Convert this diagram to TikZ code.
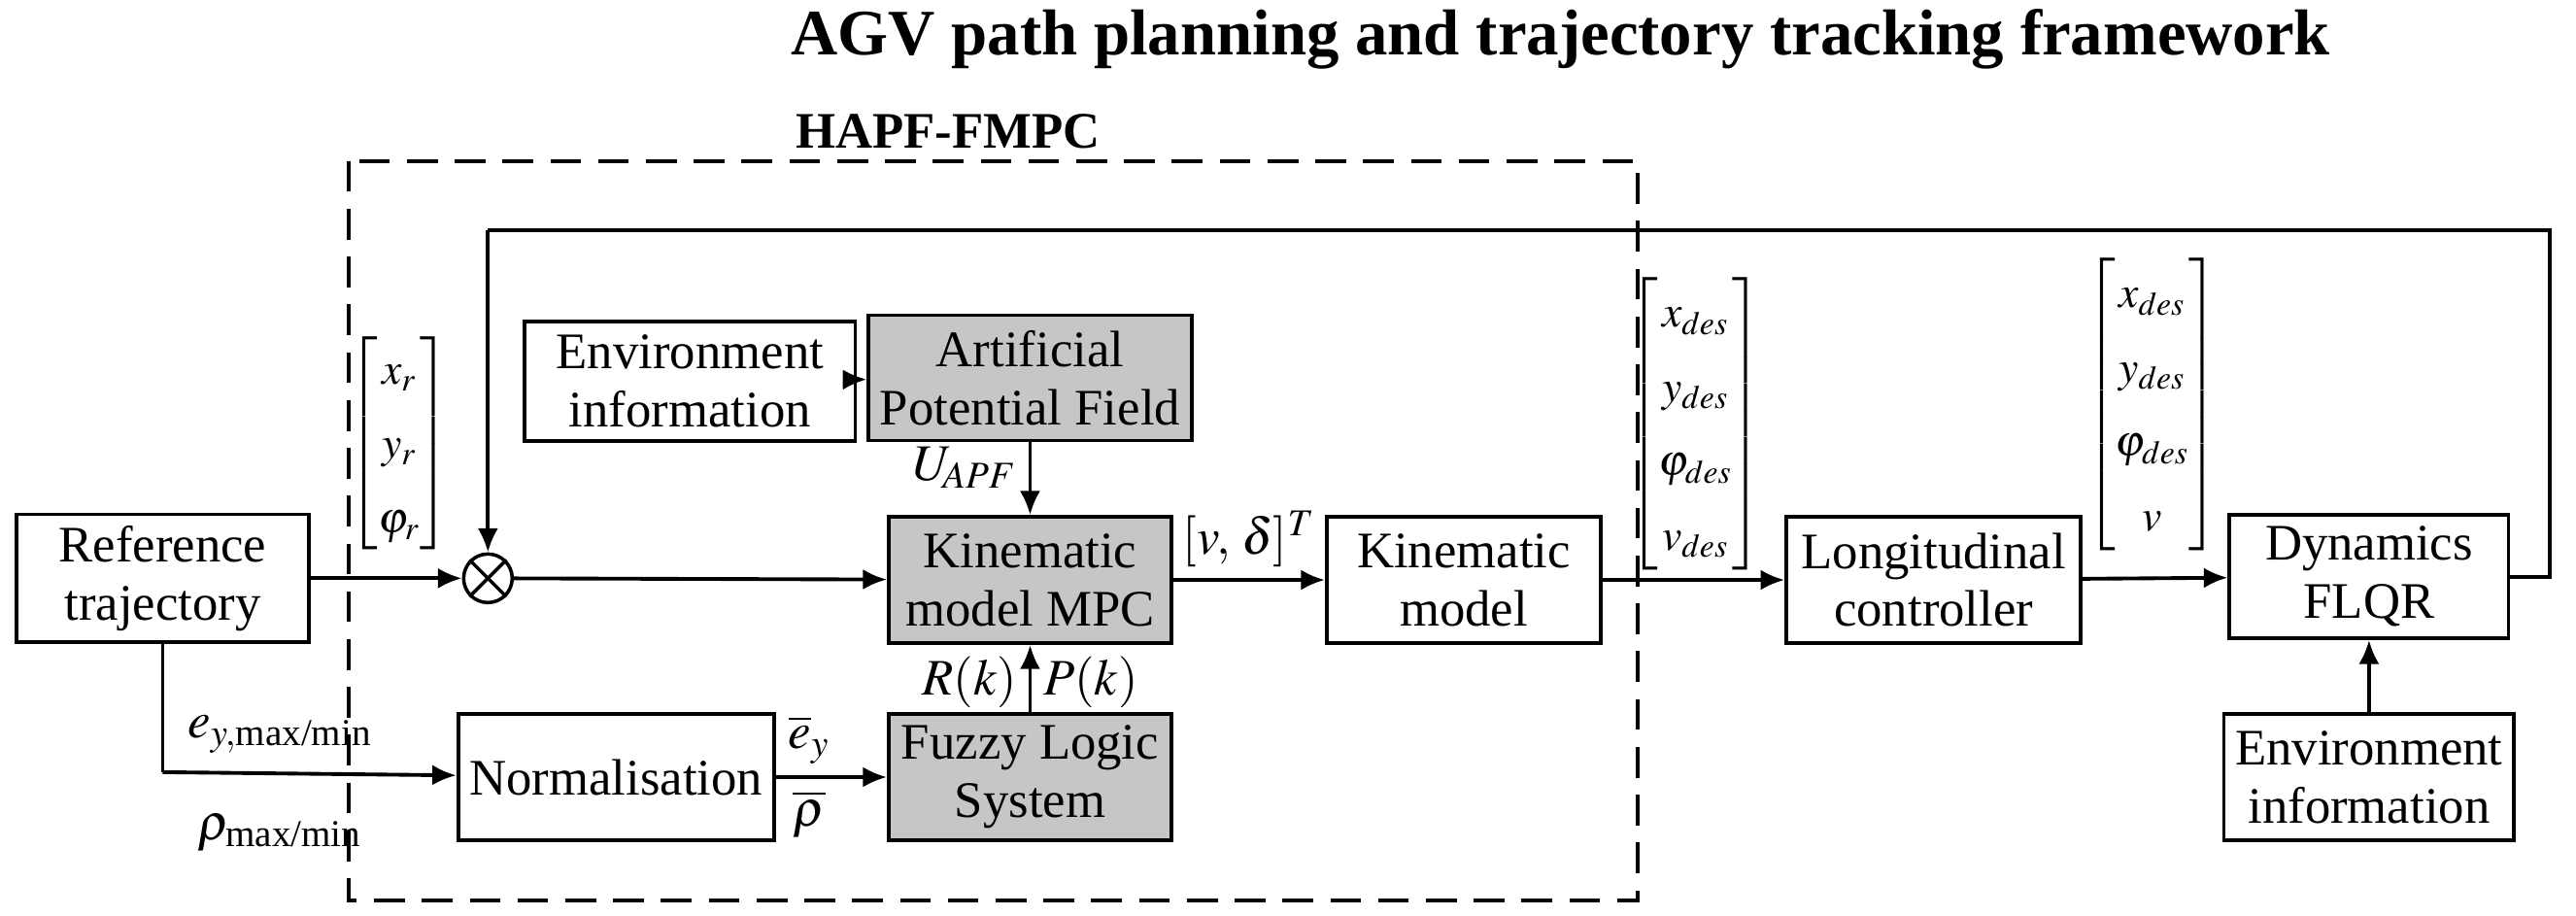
\documentclass[tikz,border=0pt]{standalone}
\usepackage{amsmath}
\usepackage{mathptmx}
\usepackage{fontspec}
\setmainfont{Liberation Serif}
\usetikzlibrary{positioning,arrows.meta}
\tikzset{
	blk/.style={draw,line width=1.1pt,align=center,font=\fontsize{15}{17}\selectfont,fill=white},
	gblk/.style={blk,fill=gray!45},
	lbl/.style={font=\fontsize{15}{17}\selectfont},
	vec/.style={font=\fontsize{13}{15}\selectfont\renewcommand{\arraystretch}{1.45}},
	con/.style={line width=1.1pt,-{Latex[length=7pt,width=6pt]}},
}
\begin{document}
\begin{tikzpicture}[x=0.01691cm,y=-0.01691cm]
	\useasboundingbox (0,0) rectangle (1568,557);
	\node[font=\fontsize{19}{23}\selectfont\bfseries] (title) at (950,24) {AGV path planning and trajectory tracking framework};
	\draw[line width=1.1pt,dash pattern=on 9pt off 5pt] (212,98) rectangle (997,548);
	\node[font=\fontsize{15}{18}\selectfont\bfseries] (hapf) at (577,80) {HAPF-FMPC};

	\node[blk,minimum width=3.01cm,minimum height=1.27cm] (ref) at (99,352) {Reference\\trajectory};
	\node[draw,circle,minimum size=0.5cm,line width=1pt,fill=white] (sum) at (297,352) {};
	\draw[line width=1pt] (sum.north west) -- (sum.south east) (sum.north east) -- (sum.south west);
	\node[blk,minimum width=3.4cm,minimum height=1.23cm] (env) at (420,232) {Environment\\information};
	\node[gblk,minimum width=2.91cm,minimum height=1.29cm] (apf) at (627,230) {Artificial\\Potential Field};
	\node[gblk,minimum width=2.91cm,minimum height=1.30cm] (mpc) at (627,353) {Kinematic\\model MPC};
	\node[gblk,minimum width=2.91cm,minimum height=1.30cm] (fls) at (627,473) {Fuzzy Logic\\System};
	\node[blk,minimum width=3.21cm,minimum height=1.30cm] (norm) at (375,473) {Normalisation};
	\node[blk,minimum width=2.82cm,minimum height=1.30cm] (kin) at (891,353) {Kinematic\\model};
	\node[blk,minimum width=3.03cm,minimum height=1.30cm] (lon) at (1177,353) {Longitudinal\\controller};
	\node[blk,minimum width=2.87cm,minimum height=1.23cm] (dyn) at (1442,351) {Dynamics\\FLQR};
	\node[blk,minimum width=2.87cm,minimum height=1.30cm] (env2) at (1442,473) {Environment\\information};

	\coordinate (fb1) at (1552,351);
	\coordinate (fb2) at (1552,140);
	\coordinate (fb3) at (297,140);
	\coordinate (br) at (99,470);

	% connectors
	\draw[con] (ref) -- (sum);
	\draw[con] (sum) -- (mpc);
	\draw[con] (env) -- (apf);
	\draw[con] (apf) -- node[lbl,left,pos=.35] {$U_{\!APF}$} (mpc);
	\draw[con] (fls) -- node[lbl,left,pos=.45] {$R(k)$} node[lbl,right,pos=.45] {$P(k)$} (mpc);
	\draw[con] (mpc) -- node[lbl,above] {$[v,\,\delta]^T$} (kin);
	\draw[con] (norm) -- node[lbl,above,pos=.3] {$\overline{e}_y$} node[lbl,below,pos=.3] {$\overline{\rho}$} (fls);
	\draw[con] (kin) -- (lon);
	\draw[con] (lon) -- (dyn);
	\draw[con] (env2) -- (dyn);
	\draw[line width=1.1pt] (ref.south) -- (br);
	\draw[con] (br) -- node[lbl,above=2pt,pos=.4] {$e_{y,\text{max/min}}$} node[lbl,below=8pt,pos=.4] {$\rho_{\text{max/min}}$} (norm);
	\draw[line width=1.1pt] (dyn.east) -- (fb1) -- (fb2) -- (fb3);
	\draw[con] (fb3) -- (sum);

	% state vectors
	\node[vec] (vr) at (243,270) {$\begin{bmatrix}x_r\\y_r\\\varphi_r\end{bmatrix}$};
	\node[vec] (vd) at (1032,258) {$\begin{bmatrix}x_{des}\\y_{des}\\\varphi_{des}\\v_{des}\end{bmatrix}$};
	\node[vec] (vd2) at (1310,246) {$\begin{bmatrix}x_{des}\\y_{des}\\\varphi_{des}\\v\end{bmatrix}$};
\end{tikzpicture}
\end{document}
